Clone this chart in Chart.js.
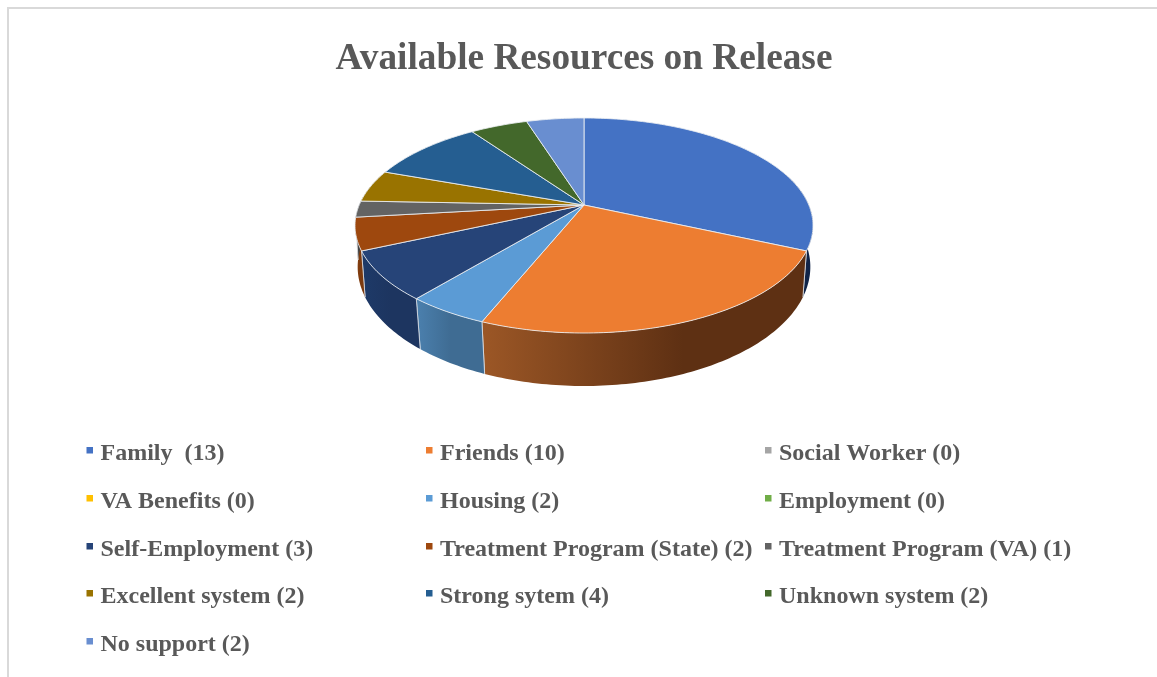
<!DOCTYPE html>
<html><head><meta charset="utf-8">
<style>html,body{margin:0;padding:0;background:#fff}canvas{display:block;filter:blur(0.45px)}</style>
<script src="https://cdn.jsdelivr.net/npm/chart.js@4"></script>
</head><body><canvas id="c" width="1157" height="677"></canvas>
<script>
const titleText = 'Available Resources on Release';
const categories = ['Family  (13)','Friends (10)','Social Worker (0)','VA Benefits (0)','Housing (2)','Employment (0)','Self-Employment (3)','Treatment Program (State) (2)','Treatment Program (VA) (1)','Excellent system (2)','Strong sytem (4)','Unknown system (2)','No support (2)'];
const values = [13,10,0,0,2,0,3,2,1,2,4,2,2];
const colors = ['#4472c4','#ed7d31','#a5a5a5','#ffc000','#5b9bd5','#70ad47','#264478','#9e480e','#636363','#997300','#255e91','#43682b','#698ed0'];
const wallFrom = ['#1c3560','#9c5726','#777777','#b08c00','#4b80ae','#50803a','#1e3a68','#8c4212','#4a4a4a','#6e5300','#1a4468','#304b1f','#4c6796'];
const wallTo = ['#102448','#5e3013','#666666','#a08000','#3f6c93','#456f32','#1d3560','#7c3a0e','#444444','#604800','#163a5a','#2a411b','#425a84'];
const wallMid = [0.5,0.62,0.5,0.5,0.5,0.5,0.5,0.5,0.5,0.5,0.5,0.5,0.5];

const P = {cx:584, cy:205, A:224.8, B:103.6, k:0.1907, d0:41.5, d1:11.5};
function topPt(a){const u=Math.cos(a),v=Math.sin(a),w=1-P.k*v;return [P.cx+P.A*u/w,P.cy+P.B*v/w];}
function botPt(a){const t=topPt(a),v=Math.sin(a),sx=0.992-0.02*Math.max(v,0);return [P.cx+(t[0]-P.cx)*sx,t[1]+P.d0+P.d1*v];}
function samples(s,e){const n=Math.max(2,Math.ceil((e-s)/(Math.PI/180)));const r=[];for(let i=0;i<=n;i++)r.push(s+(e-s)*i/n);return r;}

const pie3d = {
  id:'pie3d',
  beforeDraw(chart){
    const c=chart.ctx;c.save();c.fillStyle='#fff';c.fillRect(0,0,1157,677);
    c.strokeStyle='#d9d9d9';c.lineWidth=2;c.beginPath();c.moveTo(8,677);c.lineTo(8,8);c.lineTo(1157,8);c.stroke();c.restore();
  },
  beforeDatasetDraw(chart,args){
    const c=chart.ctx, arcs=args.meta.data;
    c.save();
    arcs.forEach((el,i)=>{
      if(values[i]===0) return;
      const a=Math.max(el.startAngle,-0.35), b=Math.min(el.endAngle,Math.PI+0.35);
      if(b<=a) return;
      const pts=samples(a,b), T=pts.map(topPt), B=pts.map(botPt);
      const xs=T.concat(B).map(p=>p[0]), x0=Math.min(...xs), x1=Math.max(...xs);
      const g=c.createLinearGradient(x0,0,x1,0);
      g.addColorStop(0,wallFrom[i]);g.addColorStop(wallMid[i],wallTo[i]);g.addColorStop(1,wallTo[i]);
      c.beginPath();T.forEach((p,j)=>j?c.lineTo(p[0],p[1]):c.moveTo(p[0],p[1]));
      B.slice().reverse().forEach(p=>c.lineTo(p[0],p[1]));c.closePath();
      c.fillStyle=g;c.fill();
      c.strokeStyle='rgba(225,230,235,0.75)';c.lineWidth=1;
      c.beginPath();const ta=topPt(a),ba=botPt(a),tb=topPt(b),bb=botPt(b);
      if(a>-0.1&&a<Math.PI+0.1){c.moveTo(ta[0],ta[1]);c.lineTo(ba[0],ba[1]);}
      if(b>-0.1&&b<Math.PI+0.1){c.moveTo(tb[0],tb[1]);c.lineTo(bb[0],bb[1]);}
      c.stroke();
    });
    arcs.forEach((el,i)=>{
      if(values[i]===0) return;
      c.beginPath();c.moveTo(P.cx,P.cy);
      samples(el.startAngle,el.endAngle).map(topPt).forEach(p=>c.lineTo(p[0],p[1]));
      c.closePath();c.fillStyle=colors[i];c.fill();
      c.strokeStyle='rgba(235,238,242,0.85)';c.lineWidth=1;c.lineJoin='round';c.stroke();
    });
    c.restore();
    return false;
  },
  afterDraw(chart){
    const c=chart.ctx;c.save();
    const colX=[[86.5,100.5],[426,440],[765,779]];
    const rowY=[459,507,555,602,650];
    c.font='bold 24px "Liberation Serif"';c.textBaseline='alphabetic';c.textAlign='left';
    categories.forEach((t,i)=>{
      const col=colX[i%3],y=rowY[Math.floor(i/3)];
      c.fillStyle=colors[i];c.fillRect(col[0],y-12,6.5,6.5);
      c.fillStyle='#595959';c.fillText(t,col[1],y+1);
    });
    c.restore();
  }
};

new Chart(document.getElementById('c'),{
  type:'pie',
  data:{labels:categories,datasets:[{data:values,backgroundColor:colors}]},
  plugins:[pie3d],
  options:{
    responsive:false,animation:false,
    layout:{padding:{left:11}},
    plugins:{
      legend:{display:false},tooltip:{enabled:false},
      title:{display:true,text:titleText,color:'#595959',font:{family:'"Liberation Serif"',size:37.3,weight:'bold'},padding:{top:37,bottom:10}}
    }
  }
});
</script></body></html>
